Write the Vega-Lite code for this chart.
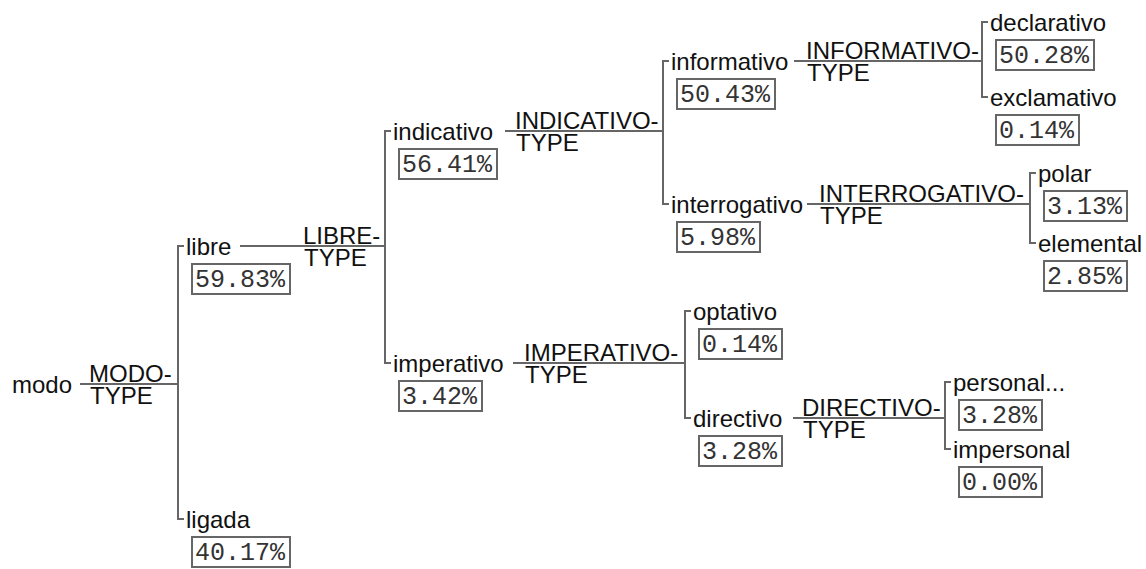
{
  "$schema": "https://vega.github.io/schema/vega-lite/v6.json",
  "width": 1146,
  "height": 569,
  "padding": 0,
  "autosize": {"type": "none"},
  "background": "white",
  "config": {"view": {"stroke": null}},
  "data": {"values": [
    {"name": "modo", "pct": null, "parent": null, "x": 12, "y": 384, "type": "MODO-", "lineX": 80, "bx": 178, "typeX": 89},
    {"name": "libre", "pct": "59.83%", "parent": "modo", "x": 186, "y": 246, "type": "LIBRE-", "lineX": 240, "bx": 385, "typeX": 303},
    {"name": "ligada", "pct": "40.17%", "parent": "modo", "x": 186, "y": 519, "type": null},
    {"name": "indicativo", "pct": "56.41%", "parent": "libre", "x": 393, "y": 131, "type": "INDICATIVO-", "lineX": 505, "bx": 663, "typeX": 515},
    {"name": "imperativo", "pct": "3.42%", "parent": "libre", "x": 393, "y": 363, "type": "IMPERATIVO-", "lineX": 513, "bx": 685, "typeX": 524},
    {"name": "informativo", "pct": "50.43%", "parent": "indicativo", "x": 671, "y": 61, "type": "INFORMATIVO-", "lineX": 794, "bx": 982, "typeX": 806},
    {"name": "interrogativo", "pct": "5.98%", "parent": "indicativo", "x": 671, "y": 204, "type": "INTERROGATIVO-", "lineX": 807, "bx": 1030, "typeX": 819},
    {"name": "declarativo", "pct": "50.28%", "parent": "informativo", "x": 990, "y": 22, "type": null},
    {"name": "exclamativo", "pct": "0.14%", "parent": "informativo", "x": 990, "y": 97, "type": null},
    {"name": "polar", "pct": "3.13%", "parent": "interrogativo", "x": 1038, "y": 173, "type": null},
    {"name": "elemental", "pct": "2.85%", "parent": "interrogativo", "x": 1038, "y": 243, "type": null},
    {"name": "optativo", "pct": "0.14%", "parent": "imperativo", "x": 693, "y": 311, "type": null},
    {"name": "directivo", "pct": "3.28%", "parent": "imperativo", "x": 693, "y": 418, "type": "DIRECTIVO-", "lineX": 793, "bx": 945, "typeX": 802},
    {"name": "personal...", "pct": "3.28%", "parent": "directivo", "x": 953, "y": 382, "type": null},
    {"name": "impersonal", "pct": "0.00%", "parent": "directivo", "x": 953, "y": 449, "type": null}
  ]},
  "layer": [
    {
      "transform": [
        {"filter": "datum.parent != null"},
        {"calculate": "datum.x - 8", "as": "bxc"},
        {"aggregate": [{"op": "min", "field": "y", "as": "y1"}, {"op": "max", "field": "y", "as": "y2"}, {"op": "min", "field": "bxc", "as": "bxc"}], "groupby": ["parent"]}
      ],
      "mark": {"type": "rule", "stroke": "#666", "strokeWidth": 2},
      "encoding": {
        "x": {"field": "bxc", "type": "quantitative", "scale": {"domain": [0, 1146], "nice": false, "zero": false}, "axis": null},
        "y": {"field": "y1", "type": "quantitative", "scale": {"domain": [0, 569], "reverse": true, "nice": false, "zero": false}, "axis": null},
        "y2": {"field": "y2"}
      }
    },
    {
      "transform": [
        {"filter": "datum.parent != null"},
        {"calculate": "datum.x - 9", "as": "t1"},
        {"calculate": "datum.x - 2", "as": "t2"}
      ],
      "mark": {"type": "rule", "stroke": "#666", "strokeWidth": 2},
      "encoding": {
        "x": {"field": "t1", "type": "quantitative", "scale": {"domain": [0, 1146]}, "axis": null},
        "x2": {"field": "t2"},
        "y": {"field": "y", "type": "quantitative", "scale": {"domain": [0, 569], "reverse": true}, "axis": null}
      }
    },
    {
      "transform": [{"filter": "datum.type != null"}],
      "mark": {"type": "rule", "stroke": "#666", "strokeWidth": 2},
      "encoding": {
        "x": {"field": "lineX", "type": "quantitative", "scale": {"domain": [0, 1146]}, "axis": null},
        "x2": {"field": "bx"},
        "y": {"field": "y", "type": "quantitative", "scale": {"domain": [0, 569], "reverse": true}, "axis": null}
      }
    },
    {
      "mark": {"type": "text", "align": "left", "baseline": "alphabetic", "dy": 9, "font": "Liberation Sans", "fontSize": 24, "fill": "#111"},
      "encoding": {
        "x": {"field": "x", "type": "quantitative", "scale": {"domain": [0, 1146]}, "axis": null},
        "y": {"field": "y", "type": "quantitative", "scale": {"domain": [0, 569], "reverse": true}, "axis": null},
        "text": {"field": "name"}
      }
    },
    {
      "transform": [{"filter": "datum.type != null"}],
      "mark": {"type": "text", "align": "left", "baseline": "alphabetic", "dy": -2, "font": "Liberation Sans", "fontSize": 24, "fill": "#111"},
      "encoding": {
        "x": {"field": "typeX", "type": "quantitative", "scale": {"domain": [0, 1146]}, "axis": null},
        "y": {"field": "y", "type": "quantitative", "scale": {"domain": [0, 569], "reverse": true}, "axis": null},
        "text": {"field": "type"}
      }
    },
    {
      "transform": [{"filter": "datum.type != null"}, {"calculate": "'TYPE'", "as": "tt"}],
      "mark": {"type": "text", "align": "left", "baseline": "alphabetic", "dy": 20, "dx": 1, "font": "Liberation Sans", "fontSize": 24, "fill": "#111"},
      "encoding": {
        "x": {"field": "typeX", "type": "quantitative", "scale": {"domain": [0, 1146]}, "axis": null},
        "y": {"field": "y", "type": "quantitative", "scale": {"domain": [0, 569], "reverse": true}, "axis": null},
        "text": {"field": "tt"}
      }
    },
    {
      "transform": [
        {"filter": "datum.pct != null"},
        {"calculate": "datum.x + 6", "as": "bx1"},
        {"calculate": "datum.x + 6 + 15 * length(datum.pct) + 8", "as": "bx2"},
        {"calculate": "datum.y + 18", "as": "by1"},
        {"calculate": "datum.y + 48", "as": "by2"}
      ],
      "mark": {"type": "rect", "fill": "white", "stroke": "#666", "strokeWidth": 2},
      "encoding": {
        "x": {"field": "bx1", "type": "quantitative", "scale": {"domain": [0, 1146]}, "axis": null},
        "x2": {"field": "bx2"},
        "y": {"field": "by1", "type": "quantitative", "scale": {"domain": [0, 569], "reverse": true}, "axis": null},
        "y2": {"field": "by2"}
      }
    },
    {
      "transform": [
        {"filter": "datum.pct != null"},
        {"calculate": "datum.x + 9", "as": "px"},
        {"calculate": "datum.y + 33", "as": "py"}
      ],
      "mark": {"type": "text", "align": "left", "baseline": "alphabetic", "dy": 8, "font": "Liberation Mono", "fontSize": 25, "fill": "#333"},
      "encoding": {
        "x": {"field": "px", "type": "quantitative", "scale": {"domain": [0, 1146]}, "axis": null},
        "y": {"field": "py", "type": "quantitative", "scale": {"domain": [0, 569], "reverse": true}, "axis": null},
        "text": {"field": "pct"}
      }
    }
  ]
}
